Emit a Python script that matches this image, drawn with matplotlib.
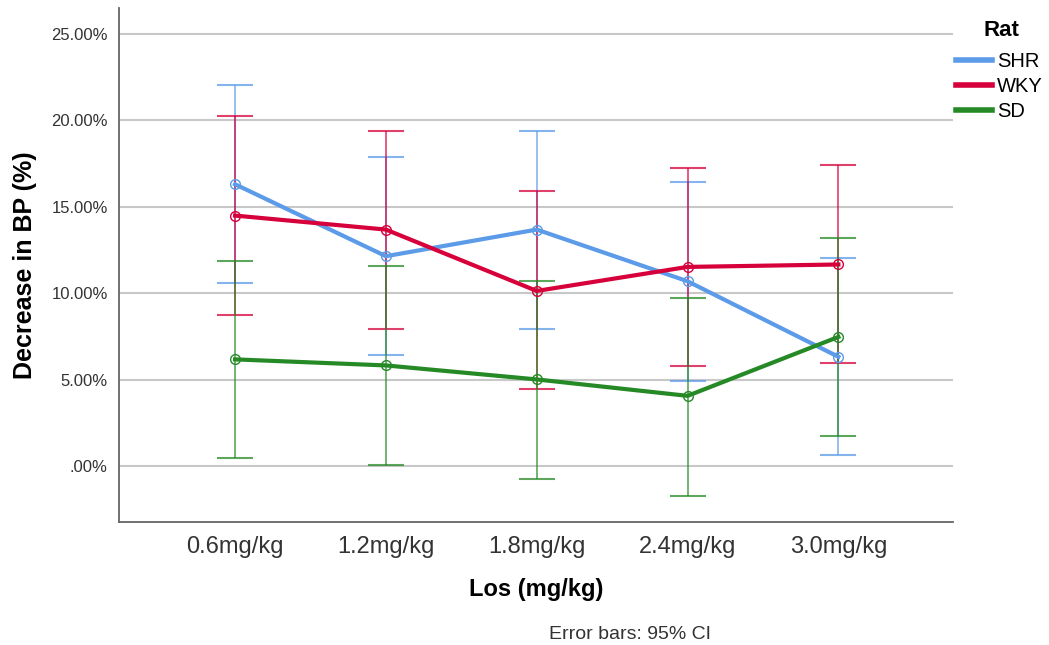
import numpy as np
import matplotlib.pyplot as plt

plt.rcParams['font.family'] = ['Liberation Sans', 'DejaVu Sans']

# doses and group means / 95% CI bounds (percent)
doses = ["0.6mg/kg", "1.2mg/kg", "1.8mg/kg", "2.4mg/kg", "3.0mg/kg"]

shr_mean = [16.3, 12.14, 13.68, 10.69, 6.32]
shr_low = [10.6, 6.42, 7.92, 4.93, 0.62]
shr_high = [22.06, 17.88, 19.38, 16.42, 12.06]

wky_mean = [14.49, 13.68, 10.13, 11.52, 11.66]
wky_low = [8.75, 7.92, 4.43, 5.78, 5.94]
wky_high = [20.23, 19.38, 15.91, 17.22, 17.40]

sd_mean = [6.17, 5.82, 5.01, 4.06, 7.47]
sd_low = [0.44, 0.08, -0.75, -1.73, 1.75]
sd_high = [11.89, 11.56, 10.73, 9.71, 13.22]

groups = [
    ("SHR", shr_mean, shr_low, shr_high, "#5b9be8"),
    ("WKY", wky_mean, wky_low, wky_high, "#d6003b"),
    ("SD", sd_mean, sd_low, sd_high, "#258a25"),
]

x = np.arange(1, len(doses) + 1)

fig = plt.figure(figsize=(10.49, 6.45), dpi=100)
ax = fig.add_axes([0.1134, 0.1912, 0.7951, 0.7964])

for name, mean, low, high, col in groups:
    mean = np.array(mean)
    yerr = [mean - np.array(low), np.array(high) - mean]
    ax.errorbar(x, mean, yerr=yerr, fmt="none", ecolor=col, elinewidth=1.2,
                capsize=13, capthick=1.5, alpha=0.75, zorder=3)

for name, mean, low, high, col in groups:
    ax.plot(x, mean, color=col, linewidth=3, marker="o", markersize=7,
            markerfacecolor="none", markeredgecolor=col, markeredgewidth=1.0,
            label=name, zorder=4)

ax.set_xlim(0.23, 5.76)
ax.set_ylim(-3.22, 26.5)
ax.set_xticks(x)
ax.set_xticklabels(doses, fontsize=17, color="#333333")
yt = [0, 5, 10, 15, 20, 25]
ax.set_yticks(yt)
ax.set_yticklabels([".00%"] + ["%.2f%%" % v for v in yt[1:]], fontsize=12, color="#333333")
ax.tick_params(length=0, pad=8)
ax.tick_params(axis="x", pad=10)

ax.grid(axis="y", color="#c8c8c8", linewidth=1.5, zorder=0)
ax.set_axisbelow(True)
for s in ["top", "right"]:
    ax.spines[s].set_visible(False)
for s in ["left", "bottom"]:
    ax.spines[s].set_color("#666666")
    ax.spines[s].set_linewidth(1.3)

ax.set_ylabel("Decrease in BP (%)", fontsize=18, fontweight="bold", labelpad=10)
ax.set_xlabel("Los (mg/kg)", fontsize=17, fontweight="bold", labelpad=15)

# legend title drawn separately so it can sit above the entries like the original
fig.text(1001 / 1049, 1 - 30 / 645, "Rat", fontsize=16, fontweight="bold",
         ha="center", va="center")
leg = fig.legend(loc="upper left", bbox_to_anchor=(956 / 1049, 1 - 52 / 645), frameon=False,
                 fontsize=14.5, handlelength=1.8, handletextpad=0.25,
                 labelspacing=0.3, borderpad=0, borderaxespad=0)
for line in leg.get_lines():
    line.set_marker("")
    line.set_linewidth(4)

fig.text(630 / 1049, 0.01, "Error bars: 95% CI", fontsize=14, color="#333333", ha="center")

fig.savefig("out.png", dpi=100)
